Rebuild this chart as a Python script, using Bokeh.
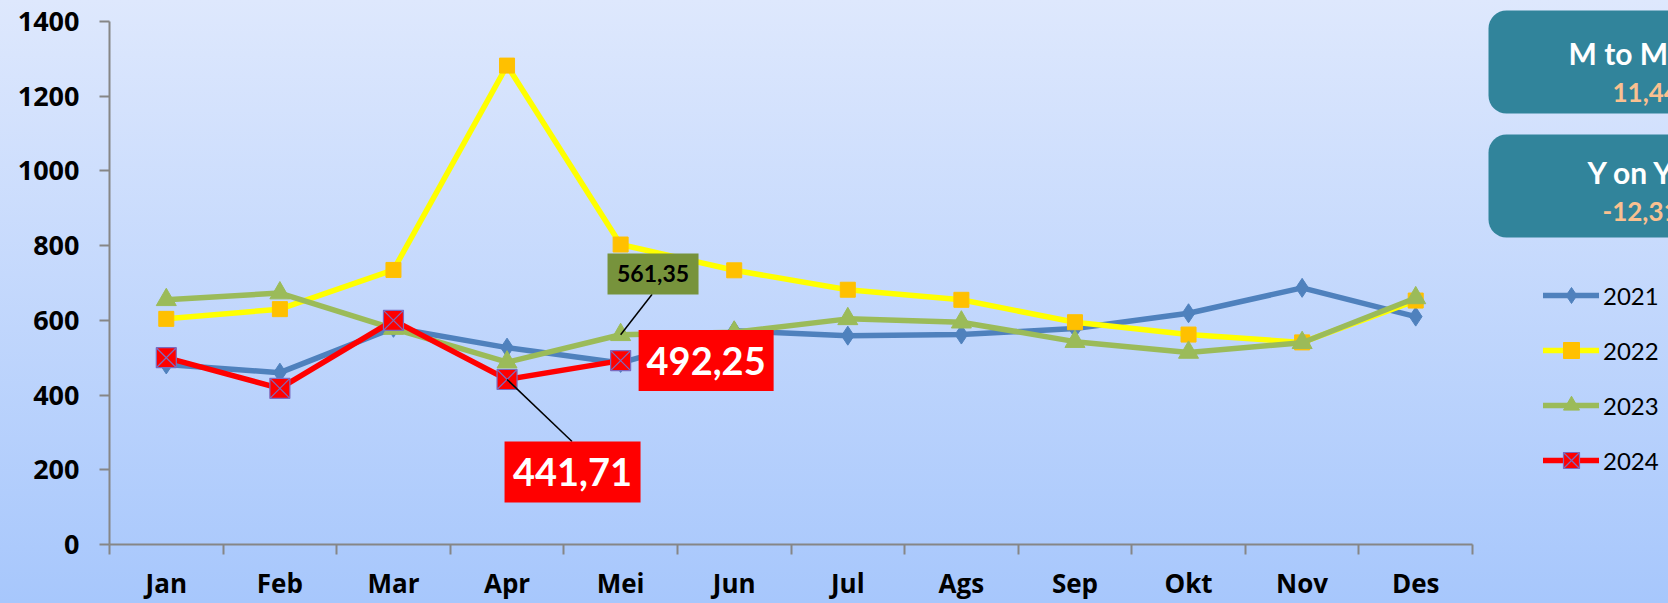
from bokeh.plotting import figure
from bokeh.models import Range1d, FixedTicker, Legend, LegendItem
from bokeh.core.properties import value
from bokeh.embed import file_html
from bokeh.resources import INLINE

# ---------------- data ----------------
months = ["Jan", "Feb", "Mar", "Apr", "Mei", "Jun", "Jul", "Ags", "Sep", "Okt", "Nov", "Des"]
v2021 = [482, 460, 580, 527, 486, 572, 559, 562, 578, 619, 687, 610]
v2022 = [604, 630, 735, 1282, 803, 734, 682, 655, 595, 562, 541, 653]
v2023 = [655, 673, 578, 488, 561.35, 568, 604, 595, 543, 514, 540, 660]
v2024 = [500, 418, 600, 441.71, 492.25]
years = ["2021", "2022", "2023", "2024"]
y_ticks = [0, 200, 400, 600, 800, 1000, 1200, 1400]
mtm_title, mtm_value = "M to M", "11,44%"
yoy_title, yoy_value = "Y on Y", "-12,31%"

# ---------------- layout helpers ----------------
W, H = 1668, 603
LEFT, BOTTOM = 109, 59
X_PX = 1363 / 12          # px per month
Y_PX = 523 / 1400         # px per unit
x_end = (W - LEFT) / X_PX
y_end = (H - BOTTOM) / Y_PX


def px2x(px):
    return (px - LEFT) / X_PX


def py2y(py):
    return (H - BOTTOM - py) / Y_PX


def fmt(v):
    return f"{v:.2f}".replace(".", ",")


FONT = value("Lato")

p = figure(width=W, height=H, x_range=Range1d(0, x_end), y_range=Range1d(0, y_end),
           output_backend="svg", toolbar_location=None,
           min_border_left=LEFT, min_border_right=0, min_border_top=0,
           min_border_bottom=BOTTOM,
           background_fill_color=None, border_fill_color=None,
           outline_line_color=None)
p.styles = {"background": "linear-gradient(180deg, #dee8fd 0%, #a7c7fc 100%)"}
p.xgrid.visible = False
p.ygrid.visible = False

xs = [i + 0.5 for i in range(len(months))]

# axes
AX = "#868686"
p.xaxis.ticker = FixedTicker(ticks=xs, minor_ticks=list(range(len(months) + 1)))
p.xaxis.major_label_overrides = {x: m for x, m in zip(xs, months)}
p.xaxis.bounds = (0, len(months))
p.xaxis.axis_line_color = AX
p.xaxis.axis_line_width = 2
p.xaxis.major_tick_line_color = None
p.xaxis.major_tick_in = 0
p.xaxis.major_tick_out = 0
p.xaxis.minor_tick_in = 0
p.xaxis.minor_tick_out = 10
p.xaxis.minor_tick_line_color = AX
p.xaxis.minor_tick_line_width = 2
p.xaxis.major_label_standoff = 10
p.xaxis.major_label_text_font = "Open Sans"
p.xaxis.major_label_text_font_size = "26px"
p.xaxis.major_label_text_font_style = "bold"
p.xaxis.major_label_text_color = "black"

p.yaxis.ticker = FixedTicker(ticks=y_ticks, minor_ticks=[])
p.yaxis.bounds = (0, 1400)
p.yaxis.axis_line_color = AX
p.yaxis.axis_line_width = 2
p.yaxis.major_tick_line_color = AX
p.yaxis.major_tick_line_width = 2
p.yaxis.major_tick_in = 0
p.yaxis.major_tick_out = 10
p.yaxis.minor_tick_line_color = None
p.yaxis.major_label_standoff = 20
p.yaxis.major_label_text_font = "Open Sans"
p.yaxis.major_label_text_font_size = "27px"
p.yaxis.major_label_text_font_style = "bold"
p.yaxis.major_label_text_color = "black"

# series
styles = [
    (v2021, "#4F81BD", "diamond", 19, "#4F81BD", "#4F81BD", 1),
    (v2022, "#FFFF00", "square", 15, "#FFC000", "#FFC000", 1),
    (v2023, "#9BBB59", "triangle", 20, "#9BBB59", "#9BBB59", 1),
    (v2024, "#FF0000", "square_x", 20, "#FF0000", "#7B6BBF", 1.2),
]
items = []
for yr, (vals, lc, mk, sz, fc, mlc, mlw) in zip(years, styles):
    xv = xs[:len(vals)]
    rl = p.line(xv, vals, line_color=lc, line_width=5.5, line_join="round", line_cap="round")
    rs = p.scatter(xv, vals, marker=mk, size=sz, fill_color=fc, line_color=mlc, line_width=mlw)
    items.append(LegendItem(label=yr, renderers=[rl, rs]))

legend = Legend(items=items, location=(1543 - LEFT, 64), glyph_width=56, glyph_height=40,
                label_height=40, spacing=15, padding=0, margin=0, label_standoff=4,
                border_line_color=None, background_fill_alpha=0,
                label_text_font="Lato", label_text_font_size="24px",
                label_text_color="black")
p.add_layout(legend)

# data label callouts
apr_v, mei_v = v2024[3], v2024[4]
mei23 = v2023[4]
# 492,25 box (right of Mei point)
bx, by = xs[4] + 85.5 / X_PX, mei_v
p.rect([bx], [by], width=135, height=61, width_units="screen", height_units="screen",
       fill_color="#FF0000", line_color=None)
p.text([bx], [by], text=[fmt(mei_v)], text_align="center", text_baseline="middle",
       text_font=FONT, text_font_size="38px", text_font_style="bold", text_color="white")
# 441,71 box (below-right of Apr point)
bx2, by2 = xs[3] + 65.5 / X_PX, apr_v - 92.5 / Y_PX
p.segment([xs[3]], [apr_v], [xs[3] + 65 / X_PX], [apr_v - 62 / Y_PX],
          line_color="black", line_width=1.5)
p.rect([bx2], [by2], width=136, height=61, width_units="screen", height_units="screen",
       fill_color="#FF0000", line_color=None)
p.text([bx2], [by2], text=[fmt(apr_v)], text_align="center", text_baseline="middle",
       text_font=FONT, text_font_size="38px", text_font_style="bold", text_color="white")
# 561,35 box (above-right of Mei 2023 point)
bx3, by3 = xs[4] + 32.4 / X_PX, mei23 + 60.8 / Y_PX
p.segment([xs[4]], [mei23], [xs[4] + 31.5 / X_PX], [mei23 + 40.5 / Y_PX],
          line_color="black", line_width=1.5)
p.rect([bx3], [by3], width=91, height=41, width_units="screen", height_units="screen",
       fill_color="#77933C", line_color=None)
p.text([bx3], [by3], text=[fmt(mei23)], text_align="center", text_baseline="middle",
       text_font=FONT, text_font_size="23px", text_font_style="bold", text_color="black")

# summary boxes (top right)
TEAL = "#31849B"
p.quad(left=[px2x(1488), px2x(1488)], right=[px2x(1800), px2x(1800)],
       top=[py2y(10), py2y(134)], bottom=[py2y(113), py2y(237)],
       fill_color=TEAL, line_color=None, border_radius=18)
p.text([px2x(1568), px2x(1587)], [py2y(52), py2y(171)], text=[mtm_title, yoy_title],
       text_align="left", text_baseline="alphabetic", text_font=FONT,
       text_font_size="30px", text_font_style="bold", text_color="white")
p.text([px2x(1612), px2x(1602)], [py2y(91), py2y(210)], text=[mtm_value, yoy_value],
       text_align="left", text_baseline="alphabetic", text_font=FONT,
       text_font_size="26px", text_font_style="bold", text_color="#FAC090")

open("out.html", "w").write(file_html(p, INLINE))
